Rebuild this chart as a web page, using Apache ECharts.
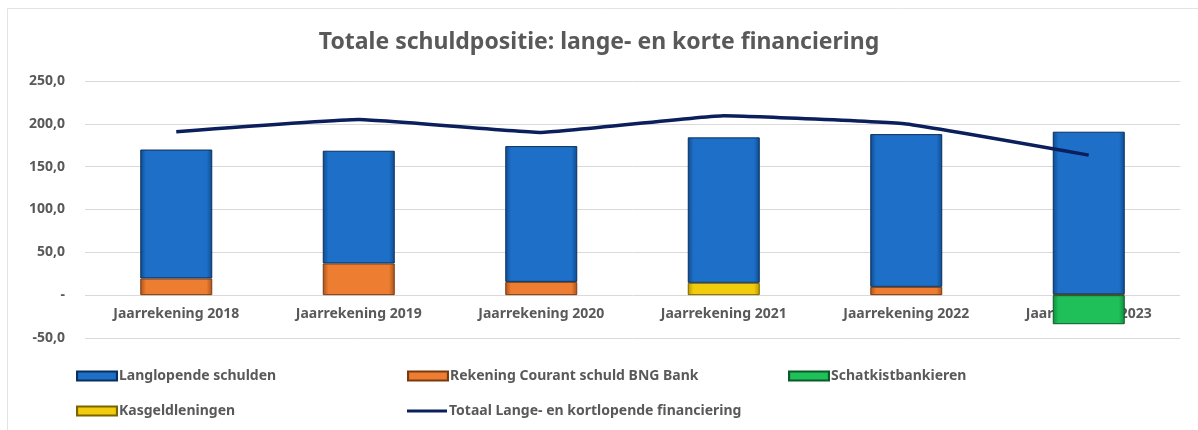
<!DOCTYPE html>
<html>
<head>
<meta charset="utf-8">
<script src="https://cdn.jsdelivr.net/npm/echarts@6/dist/echarts.min.js"></script>
<style>
  html, body { margin: 0; padding: 0; background: #fff; }
  #chart { width: 1198px; height: 430px; }
</style>
</head>
<body>
<div id="chart"></div>
<script>
// Schuldpositie per jaarrekening (bedragen in miljoenen)
const categories = ['Jaarrekening 2018', 'Jaarrekening 2019', 'Jaarrekening 2020', 'Jaarrekening 2021', 'Jaarrekening 2022', 'Jaarrekening 2023'];
const langlopende = [150.5, 131.6, 158.5, 169.8, 178.3, 189.8];
const rekeningCourant = [19.5, 37.0, 15.5, null, 9.7, 1.0];
const schatkist = [null, null, null, null, null, -33.9];
const kasgeld = [null, null, null, 14.4, null, null];
const totaal = [190.8, 205.0, 190.0, 209.5, 199.8, 163.5];
const yTicks = { min: -50, max: 250, interval: 50 };

const names = {
  lang: 'Langlopende schulden',
  rc: 'Rekening Courant schuld BNG Bank',
  sk: 'Schatkistbankieren',
  kg: 'Kasgeldleningen',
  tot: 'Totaal Lange- en kortlopende financiering'
};

// Horizontal gradient: darker edges, brighter middle for a bevelled bar look
function bevel(edge, mid) {
  return new echarts.graphic.LinearGradient(0, 0, 1, 0, [
    { offset: 0, color: edge },
    { offset: 0.08, color: mid },
    { offset: 0.92, color: mid },
    { offset: 1, color: edge }
  ]);
}

const font = '"Noto Sans", sans-serif';
const grey = '#595959';

function barSeries(name, data, edge, mid, border) {
  return {
    name, type: 'bar', stack: 'schuld', data, barWidth: 72,
    itemStyle: { color: bevel(edge, mid), borderColor: border, borderWidth: 1 }
  };
}

function legendAt(name, left, top, opts) {
  return Object.assign({
    data: [name], left, top, padding: 0, icon: 'rect', itemWidth: 40, itemHeight: 9, itemGap: 2,
    textStyle: { color: grey, fontSize: 14, fontFamily: font, fontWeight: 'bold', padding: [0, 0, 0, -3] },
    selectedMode: false
  }, opts || {});
}

// Grid geometry: the category axis is shifted up from the -50 line to the 0 line
const gridTop = 81, gridBottom = 92;

const chart = echarts.init(document.getElementById('chart'), null, { renderer: 'canvas' });
chart.setOption({
  animation: false,
  backgroundColor: '#fff',
  title: {
    text: 'Totale schuldpositie: lange- en korte financiering',
    left: 'center', top: 26,
    textStyle: { color: grey, fontSize: 23, fontWeight: 'bold', fontFamily: font }
  },
  graphic: [
    { type: 'line', shape: { x1: 7.5, y1: 8.5, x2: 1198, y2: 8.5 }, style: { stroke: '#e3e3e3', lineWidth: 1 }, silent: true },
    { type: 'line', shape: { x1: 7.5, y1: 8.5, x2: 7.5, y2: 430 }, style: { stroke: '#e3e3e3', lineWidth: 1 }, silent: true }
  ],
  legend: [
    legendAt(names.lang, 76, 369),
    legendAt(names.rc, 407, 369),
    legendAt(names.sk, 788, 369),
    legendAt(names.kg, 76, 404),
    legendAt(names.tot, 407, 404, { itemHeight: 3 })
  ],
  grid: { left: 85, right: 18, top: gridTop, bottom: gridBottom, containLabel: false },
  xAxis: {
    type: 'category', data: categories, position: 'bottom',
    offset: -((430 - gridTop - gridBottom) * (0 - yTicks.min) / (yTicks.max - yTicks.min)),
    axisLine: { show: false },
    axisTick: { show: false },
    axisLabel: { color: grey, fontSize: 14, fontWeight: 'bold', fontFamily: font, margin: 12 }
  },
  yAxis: {
    type: 'value', min: yTicks.min, max: yTicks.max, interval: yTicks.interval,
    axisLine: { show: false }, axisTick: { show: false },
    splitLine: { lineStyle: { color: '#d9d9d9' } },
    axisLabel: {
      color: grey, fontSize: 14, fontWeight: 'bold', fontFamily: font, margin: 20,
      formatter: v => v === 0 ? '-' : v.toFixed(1).replace('.', ',')
    }
  },
  series: [
    barSeries(names.rc, rekeningCourant, '#a9531a', '#ed7d31', '#7a3a10'),
    barSeries(names.kg, kasgeld, '#b89600', '#f2cc0c', '#7a6400'),
    barSeries(names.lang, langlopende, '#0e4b8f', '#1e6fc8', '#0a2f5c'),
    barSeries(names.sk, schatkist, '#138a3c', '#1fbf5a', '#0b5a27'),
    {
      name: names.tot, type: 'line', data: totaal, smooth: 0.1,
      symbol: 'none', z: 5,
      lineStyle: { color: '#0b1f5c', width: 3.5 },
      itemStyle: { color: '#0b1f5c' }
    }
  ]
});
</script>
</body>
</html>
